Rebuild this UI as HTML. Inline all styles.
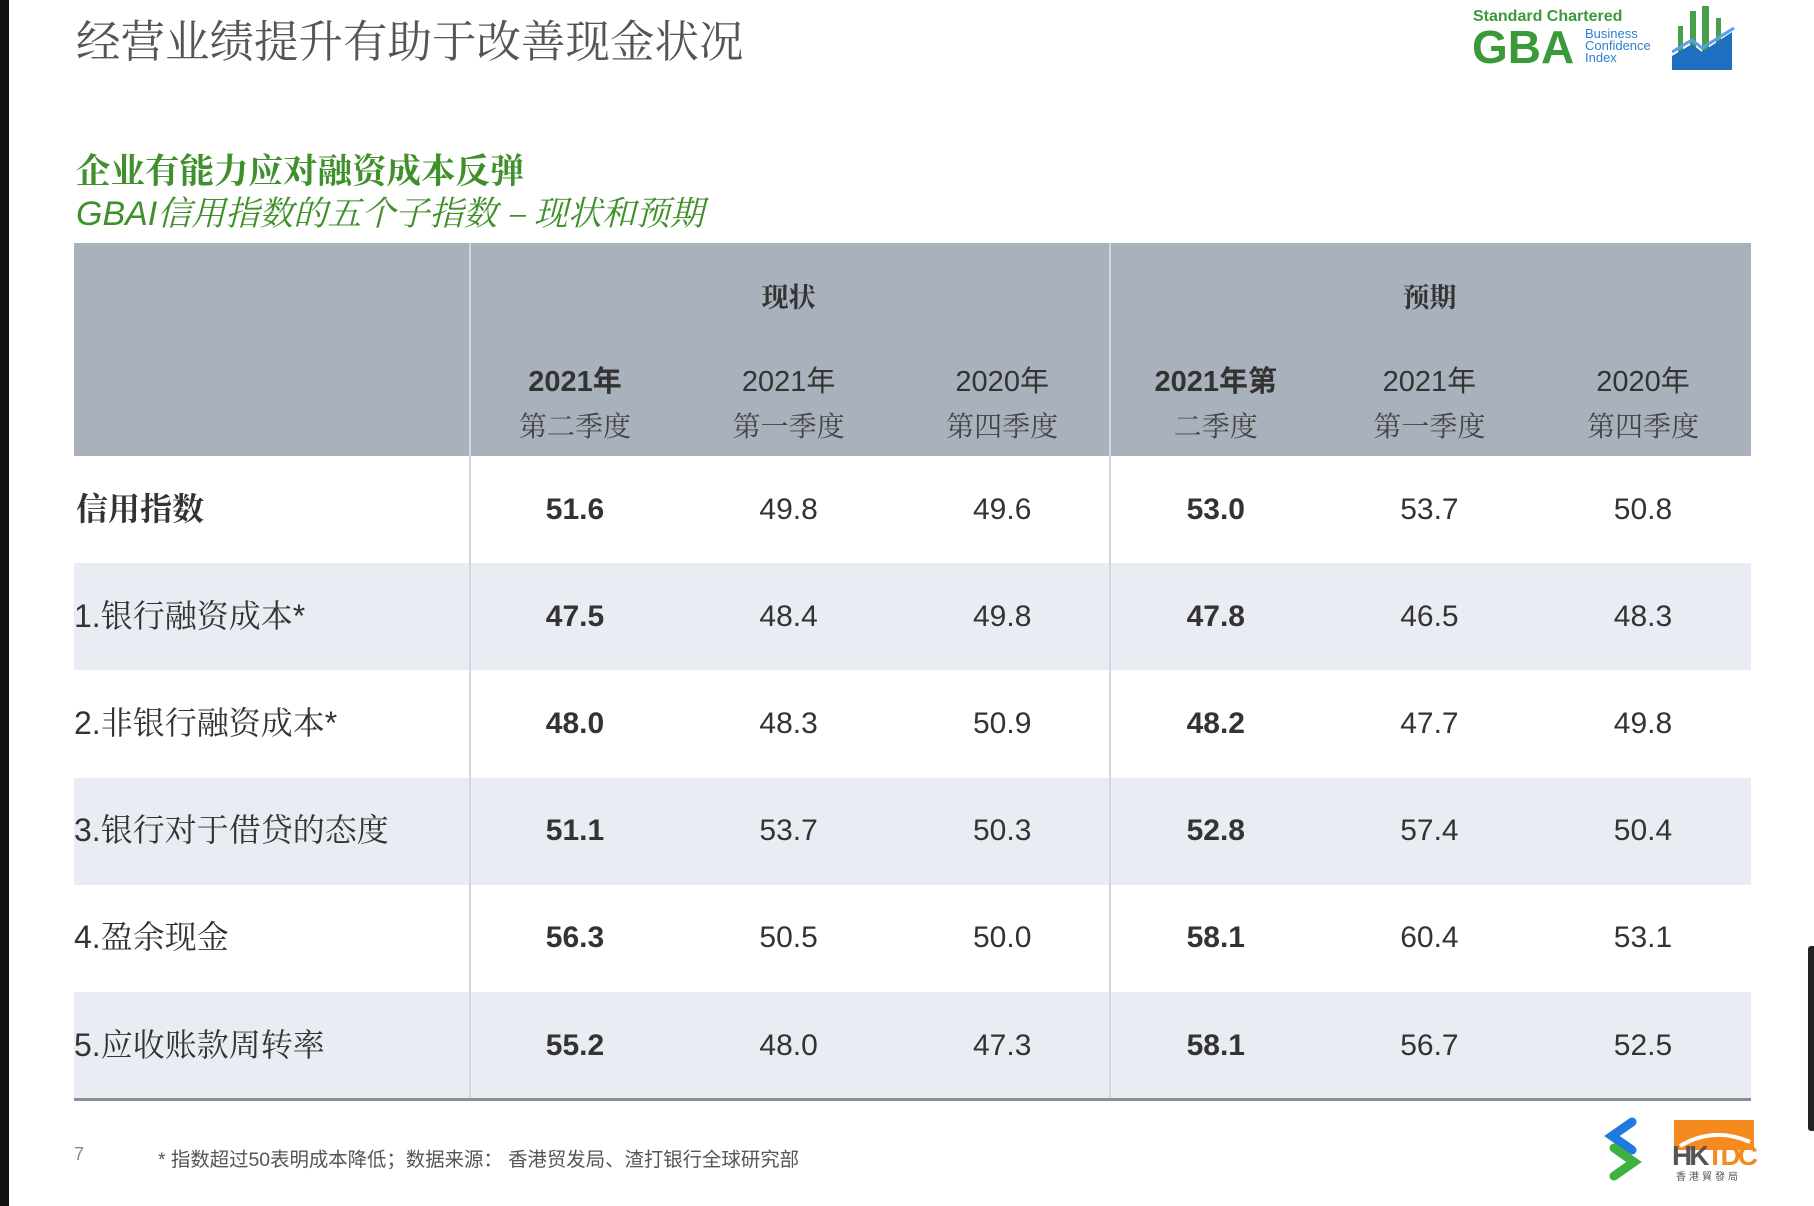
<!DOCTYPE html>
<html><head><meta charset="utf-8"><style>
body{margin:0;width:1814px;height:1206px;background:#fff;position:relative;overflow:hidden;font-family:"Liberation Sans","Noto Sans CJK SC",sans-serif;}
.abs{position:absolute;}
#tbl div{position:absolute;line-height:1;}
.c{text-align:center;transform:translateX(-50%);white-space:nowrap;}
</style></head><body>
<div class="abs" style="left:0;top:0;width:9px;height:1206px;background:#111"></div>
<div class="abs" style="left:1808px;top:946px;width:6px;height:185px;background:#222;border-radius:3px 0 0 3px"></div>
<div class="abs" style="left:76px;top:12px;font-size:44.5px;line-height:1.2;color:#555;font-family:'Noto Serif CJK SC','Liberation Serif',serif;white-space:nowrap">经营业绩提升有助于改善现金状况</div>
<div class="abs" style="left:1472px;top:6px;width:270px;height:64px">
 <div class="abs" style="left:1px;top:2px;font-size:16px;font-weight:bold;color:#3a9a3a">Standard Chartered</div>
 <div class="abs" style="left:0;top:18px;font-size:46px;font-weight:bold;color:#3a9a3a;line-height:46px">GBA</div>
 <div class="abs" style="left:113px;top:22px;font-size:13px;color:#2f7fd0;line-height:12px">Business<br>Confidence<br>Index</div>
 <svg class="abs" style="left:200px;top:0" width="70" height="64"><g fill="#4aa04a"><rect x="6" y="20" width="5" height="40"/><rect x="18" y="5" width="6" height="55"/><rect x="30" y="0" width="7" height="60"/><rect x="44" y="12" width="5" height="48"/></g><polygon points="0,64 0,50 20,38 30,46 60,26 60,64" fill="#1f6fc0"/><polyline points="0,46 20,34 30,42 62,22" fill="none" stroke="#5aa0e8" stroke-width="3"/></svg>
</div>
<div class="abs" style="left:76px;top:150px;font-size:34.5px;line-height:1.1;font-weight:bold;color:#3f8f2a;font-family:'Noto Serif CJK SC',serif;white-space:nowrap">企业有能力应对融资成本反弹</div>
<div class="abs" style="left:76px;top:192px;font-size:34px;line-height:1.1;color:#3f8f2a;font-style:italic;white-space:nowrap">GBAI<span style="font-family:'Noto Serif CJK SC',serif">信用指数的五个子指数 – 现状和预期</span></div>
<div id="tbl" class="abs" style="left:0;top:0;width:1814px;height:1206px"></div>
<div class="abs" style="left:74px;top:1144px;font-size:18px;color:#888">7</div>
<div class="abs" style="left:158px;top:1143px;font-size:19.4px;color:#555;white-space:nowrap">* 指数超过50表明成本降低；数据来源： 香港贸发局、渣打银行全球研究部</div>
<svg class="abs" style="left:1602px;top:1116px" width="42" height="66"><path d="M30 6 L10 20 L30 34" fill="none" stroke="#1f7ae0" stroke-width="9" stroke-linecap="round"/><path d="M12 32 L32 46 L12 60" fill="none" stroke="#3fb13f" stroke-width="9" stroke-linecap="round"/></svg>
<div class="abs" style="left:1672px;top:1118px;width:82px;height:64px">
 <div class="abs" style="left:2px;top:2px;width:80px;height:30px;background:#f58a1f"></div>
 <svg class="abs" style="left:2px;top:2px" width="80" height="30"><path d="M6 26 Q40 6 76 22" stroke="#fff" stroke-width="4" fill="none"/></svg>
 <div class="abs" style="left:0;top:22px;font-size:28px;font-weight:bold;color:#555;letter-spacing:-3px">HK<span style="color:#f58a1f">TDC</span></div>
 <div class="abs" style="left:4px;top:50px;font-size:10px;color:#555;letter-spacing:3px">香港貿發局</div>
</div>
<script>
const rowLabels=["信用指数","1.银行融资成本*","2.非银行融资成本*","3.银行对于借贷的态度","4.盈余现金","5.应收账款周转率"];
const colLine1=["2021年","2021年","2020年","2021年第","2021年","2020年"];
const colLine2=["第二季度","第一季度","第四季度","二季度","第一季度","第四季度"];
const groups=["现状","预期"];
const cur2021Q2=[51.6,47.5,48.0,51.1,56.3,55.2];
const cur2021Q1=[49.8,48.4,48.3,53.7,50.5,48.0];
const cur2020Q4=[49.6,49.8,50.9,50.3,50.0,47.3];
const exp2021Q2=[53.0,47.8,48.2,52.8,58.1,58.1];
const exp2021Q1=[53.7,46.5,47.7,57.4,60.4,56.7];
const exp2020Q4=[50.8,48.3,49.8,50.4,53.1,52.5];
const series=[cur2021Q2,cur2021Q1,cur2020Q4,exp2021Q2,exp2021Q1,exp2020Q4];
const T=document.getElementById('tbl');
const L=74,R=1751,top0=243,hb=456,rowH=107.2,d1=469,d2=1109;
const colX=i=>575+i*213.6;
const rowY=i=>hb+i*rowH;
function mk(name,style,text){const e=document.createElement('div');e.setAttribute('style',style);if(text!==undefined)e.textContent=text;T.appendChild(e);return e;}
let e=mk('','left:'+L+'px;top:'+top0+'px;width:'+(R-L)+'px;height:'+(hb-top0)+'px;background:#a9b2bc');


rowLabels.forEach((lab,r)=>{
 if(r%2==1){const b=mk('','left:'+L+'px;top:'+rowY(r)+'px;width:'+(R-L)+'px;height:'+rowH+'px;background:#e9edf3');
  
  }
});
[d1,d2].forEach(x=>{const l=mk('','left:'+x+'px;top:'+top0+'px;width:2px;height:'+(rowY(6)-top0)+'px;background:#d3d8de');
 
 });
e=mk('','left:'+L+'px;top:'+(rowY(6)-1)+'px;width:'+(R-L)+'px;height:3px;background:#8a8f95');


groups.forEach((g,i)=>{const x=(colX(i*3)+colX(i*3+2))/2;
 const t=mk('','left:'+x+'px;top:282px;font-size:27px;font-weight:bold;color:#333;font-family:"Noto Serif CJK SC",serif',g);t.className='c';
 
 });
colLine1.forEach((t1,i)=>{const bold=(i%3==0);
 const a=mk('','left:'+colX(i)+'px;top:368px;font-size:29px;color:#333;'+(bold?'font-weight:bold;':''),t1);a.className='c';
 
 
 const b=mk('','left:'+colX(i)+'px;top:411px;font-size:28px;color:#444;font-family:"Noto Serif CJK SC",serif',colLine2[i]);b.className='c';
 
 });
rowLabels.forEach((lab,r)=>{const cy=rowY(r)+rowH/2;
 const l=mk('','left:'+(r==0?76:74)+'px;top:'+(cy-17)+'px;font-size:32px;white-space:nowrap;color:#333;font-family:"Liberation Sans","Noto Serif CJK SC",serif;'+(r==0?'font-weight:bold;':''),lab);
 
 
 series.forEach((s,c)=>{const v=mk('','left:'+colX(c)+'px;top:'+(cy-15)+'px;font-size:30px;color:#333;'+(c%3==0?'font-weight:bold;':''),s[r].toFixed(1));v.className='c';
  
  });
});
</script>
</body></html>
